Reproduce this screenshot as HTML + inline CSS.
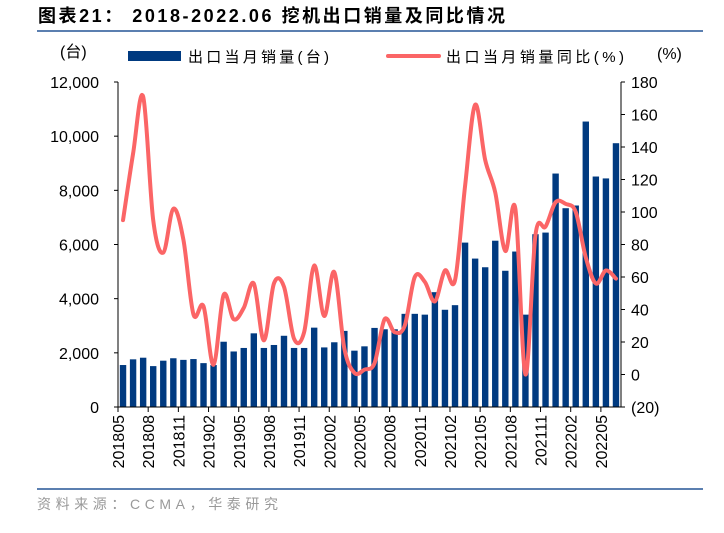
<!DOCTYPE html>
<html><head><meta charset="utf-8"><style>
body{margin:0;background:#fff;width:724px;height:528px;overflow:hidden;font-family:"Liberation Sans","Noto Sans CJK SC",sans-serif}
svg text{font-family:"Liberation Sans","Noto Sans CJK SC",sans-serif}
</style></head><body>
<svg id="c" width="724" height="528">
<text x="38" y="22" font-size="18" font-weight="bold" fill="#000" textLength="467" lengthAdjust="spacing">图表21：  2018-2022.06 挖机出口销量及同比情况</text>
<line x1="37" y1="31" x2="703" y2="31" stroke="#5b7fb0" stroke-width="2"/>
<text x="60" y="57" font-size="16">(台)</text>
<text x="657" y="59" font-size="16">(%)</text>
<rect x="128" y="51" width="53" height="10" fill="#003a80"/>
<text x="188" y="62" font-size="15" textLength="141" lengthAdjust="spacing">出口当月销量(台)</text>
<line x1="388" y1="56" x2="439" y2="56" stroke="#fb6566" stroke-width="4" stroke-linecap="round"/>
<text x="446" y="62" font-size="15" textLength="178" lengthAdjust="spacing">出口当月销量同比(%)</text>
<g id="plot"></g>
<line x1="37" y1="489" x2="703" y2="489" stroke="#5b7fb0" stroke-width="2"/>
<text x="37" y="509" font-size="14" fill="#999" textLength="241" lengthAdjust="spacing">资料来源：CCMA，华泰研究</text>
</svg>
<script>
const categories=[];for(let y=2018,m=5;!(y===2022&&m===7);){categories.push(''+y+(m<10?'0':'')+m);m++;if(m>12){m=1;y++;}}
const salesValues=[1550,1760,1820,1510,1710,1800,1740,1770,1620,1550,2410,2050,2180,2720,2180,2290,2630,2180,2180,2930,2200,2390,2810,2080,2240,2920,2870,2870,3440,3440,3410,4240,3590,3760,6070,5480,5160,6140,5030,5740,3410,6380,6440,8620,7340,7440,10540,8510,8440,9740];
const yoyValues=[95,136,171,95,75,102,83,37,42,6,49,34,41,56,21,56,54,22,26,67,36,63,16,1,3,7,34,26,30,60,57,45,64,58,116,166,132,112,76,102,0,86,91,106,105,100,72,56,64,59];
const leftTicks=[0,2000,4000,6000,8000,10000,12000];
const leftTickLabels=['0','2,000','4,000','6,000','8,000','10,000','12,000'];
const rightTicks=[-20,0,20,40,60,80,100,120,140,160,180];
const rightTickLabels=['(20)','0','20','40','60','80','100','120','140','160','180'];
const NS='http://www.w3.org/2000/svg';
const g=document.getElementById('plot');
const X0=118,X1=621,YB=407,YT=82;
const n=categories.length,step=(X1-X0)/n;
const xc=i=>X0+step*(i+0.5);
const yL=v=>YB-(v/12000)*(YB-YT);
const yR=v=>YB-((v+20)/200)*(YB-YT);
function mk(t,a){const e=document.createElementNS(NS,t);for(const k in a)e.setAttribute(k,a[k]);g.appendChild(e);return e;}
salesValues.forEach((v,i)=>{const r=mk('rect',{x:xc(i)-3.2,y:yL(v),width:6.4,height:YB-yL(v),fill:'#003a80'});

});
let a=mk('line',{x1:X0,y1:YT,x2:X0,y2:YB,stroke:'#000'});


a=mk('line',{x1:X1,y1:YT,x2:X1,y2:YB,stroke:'#000'});


a=mk('line',{x1:X0-4,y1:YB,x2:X1+4,y2:YB,stroke:'#000'});


leftTicks.forEach((v,i)=>{mk('line',{x1:X0-4,y1:yL(v),x2:X0,y2:yL(v),stroke:'#000'});
const t=mk('text',{x:99,y:yL(v)+6,'font-size':16,'text-anchor':'end'});t.textContent=leftTickLabels[i];

});
rightTicks.forEach((v,i)=>{mk('line',{x1:X1,y1:yR(v),x2:X1+4,y2:yR(v),stroke:'#000'});
const t=mk('text',{x:631,y:yR(v)+6,'font-size':16});t.textContent=rightTickLabels[i];

});
for(let i=0;i<n;i+=3){const x=X0+step*i;mk('line',{x1:x,y1:YB,x2:x,y2:YB+5,stroke:'#000'});
const t=mk('text',{x:0,y:0,'font-size':16,'text-anchor':'end',transform:`translate(${xc(i)+1},${YB+8}) rotate(-90)`});t.textContent=categories[i];

}
const pts=yoyValues.map((v,i)=>[xc(i),yR(v)]);
let d='M'+pts[0][0]+','+pts[0][1];
for(let i=0;i<pts.length-1;i++){const p0=pts[i-1]||pts[i],p1=pts[i],p2=pts[i+1],p3=pts[i+2]||p2;
d+=` C${p1[0]+(p2[0]-p0[0])/6},${p1[1]+(p2[1]-p0[1])/6} ${p2[0]-(p3[0]-p1[0])/6},${p2[1]-(p3[1]-p1[1])/6} ${p2[0]},${p2[1]}`;}
const ln=mk('path',{d:d,fill:'none',stroke:'#fb6566','stroke-width':4,'stroke-linejoin':'round','stroke-linecap':'round'});


</script>
</body></html>
